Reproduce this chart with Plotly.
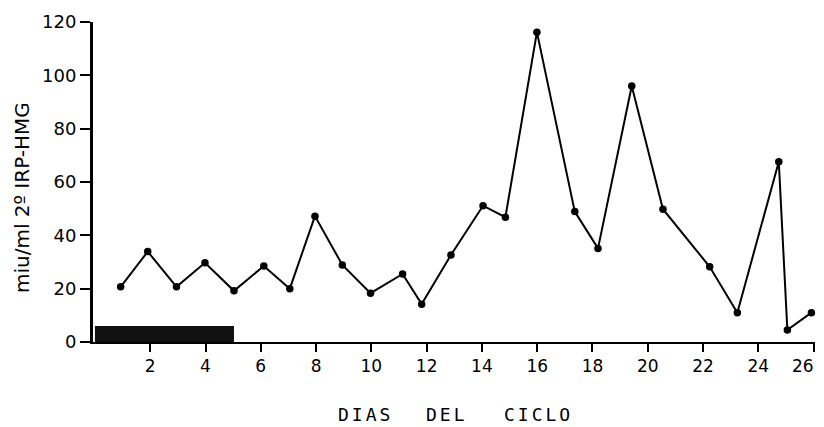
import plotly.graph_objects as go

# Day of cycle and hormone level (miu/ml 2º IRP-HMG)
dias = [0.93, 1.91, 2.95, 3.98, 5.03, 6.11, 7.05, 7.96, 8.95, 9.97, 11.13, 11.82,
        12.88, 14.04, 14.85, 15.99, 17.36, 18.2, 19.42, 20.55, 22.24, 23.24,
        24.74, 25.05, 25.92]
niveles = [20.7, 33.9, 20.7, 29.7, 19.2, 28.5, 20.0, 47.2, 28.9, 18.3, 25.5, 14.2,
           32.6, 51.1, 46.8, 116.2, 48.9, 35.1, 96.0, 49.8, 28.2, 11.0,
           67.6, 4.5, 11.0]

# Black bar (menstruation) along the x axis
barra_inicio = 0.0
barra_fin = 5.03
barra_altura = 6.0

x_ticks = [2, 4, 6, 8, 10, 12, 14, 16, 18, 20, 22, 24, 26]
x_ticktext = ["2", "4", "6", "8", "10", "12", "14", "16", "18", "20", "22", "24", "26"]
y_ticks = [0, 20, 40, 60, 80, 100, 120]

fig = go.Figure()
fig.add_trace(go.Scatter(
    x=dias, y=niveles, mode="lines+markers",
    line=dict(color="black", width=2),
    marker=dict(color="black", size=7.5),
    showlegend=False, hoverinfo="skip", cliponaxis=False,
))

fig.add_shape(type="rect", xref="x", yref="y",
              x0=barra_inicio, x1=barra_fin, y0=0, y1=barra_altura,
              fillcolor="#111111", line=dict(width=0), layer="below")

xtick_font = dict(family="DejaVu Sans", size=17, color="black")

# page body adds an 8px offset; figure sized to fit the 824x427 window
fig.update_layout(
    width=816, height=419,
    margin=dict(l=85, r=9, t=14, b=85, autoexpand=False),
    paper_bgcolor="white", plot_bgcolor="white",
    xaxis=dict(range=[-0.07, 26.05], tickvals=x_ticks,
               ticktext=x_ticktext[:-1] + [""],
               showline=True, linecolor="black", linewidth=2, automargin=False,
               ticks="outside", ticklen=8, tickwidth=2, tickcolor="black",
               showgrid=False, zeroline=False, tickfont=xtick_font),
    yaxis=dict(range=[0, 120], tickvals=y_ticks, ticktext=[str(t) for t in y_ticks],
               showline=True, linecolor="black", linewidth=3, automargin=False,
               ticks="outside", ticklen=10, tickwidth=2, tickcolor="black",
               showgrid=False, zeroline=False,
               tickfont=dict(family="DejaVu Sans", size=18, color="black")),
)

# last tick label kept inside the visible window (right-aligned at its tick)
fig.add_annotation(text=x_ticktext[-1], xref="x", yref="paper",
                   x=x_ticks[-1], y=(342 - 366) / 320, xanchor="right", yanchor="middle",
                   xshift=1, showarrow=False, font=xtick_font, borderpad=0)

title_font = dict(family="DejaVu Sans Mono", size=18, color="black")
for word, cx in [("DIAS", 365), ("DEL", 447), ("CICLO", 538)]:
    fig.add_annotation(text='<span style="letter-spacing:3px">' + word + '</span>',
                       xref="paper", yref="paper",
                       x=(cx - 93) / 722, y=(342 - 414) / 320,
                       showarrow=False, font=title_font, xanchor="center", yanchor="middle")

fig.add_annotation(text="miu/ml 2º IRP-HMG", xref="paper", yref="paper",
                   x=(22 - 93) / 722, y=(342 - 198) / 320, textangle=-90,
                   showarrow=False, xanchor="center", yanchor="middle",
                   font=dict(family="DejaVu Sans", size=20, color="black"))

fig.write_html("out.html")
